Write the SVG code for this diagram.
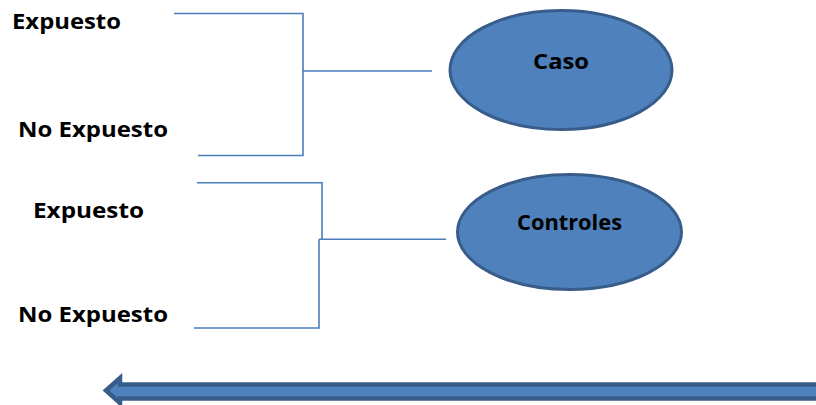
<svg xmlns="http://www.w3.org/2000/svg" width="816" height="405" viewBox="0 0 816 405">
<style>
  .lbl { font-family: "Open Sans", "Liberation Sans", Arial, sans-serif; font-weight: bold; font-size: 22px; fill: #000; }
  .node-text { font-family: "Open Sans", "Liberation Sans", Arial, sans-serif; font-weight: bold; font-size: 22px; fill: #000; text-anchor: middle; }
  .ell { fill: #4f81bd; stroke: #385d8a; stroke-width: 3; }
  .conn { fill: none; stroke: #4a7ebb; stroke-width: 1.6; }
</style>
<rect width="816" height="405" fill="#ffffff"/>
<g id="connectors">
  <path class="conn" d="M174,13.5 H303 V155.5 H198"/>
  <path class="conn" d="M303,71 H432"/>
  <path class="conn" d="M197,182.7 H322 V239.3"/>
  <path class="conn" d="M319,239.3 V328 H194"/>
  <path class="conn" d="M319,239.3 H446"/>
</g>
<g id="label-expuesto-1"><text class="lbl" x="12" y="28.5" textLength="109" lengthAdjust="spacingAndGlyphs">Expuesto</text></g>
<g id="label-noexpuesto-1"><text class="lbl" x="18" y="136.7" textLength="150" lengthAdjust="spacingAndGlyphs">No Expuesto</text></g>
<g id="label-expuesto-2"><text class="lbl" x="33" y="218.3" textLength="111" lengthAdjust="spacingAndGlyphs">Expuesto</text></g>
<g id="label-noexpuesto-2"><text class="lbl" x="18" y="321.7" textLength="150" lengthAdjust="spacingAndGlyphs">No Expuesto</text></g>
<g id="node-caso">
  <ellipse class="ell" cx="561" cy="70" rx="111" ry="59.5"/>
  <text class="node-text" x="561" y="69" textLength="56" lengthAdjust="spacingAndGlyphs">Caso</text>
</g>
<g id="node-controles">
  <ellipse class="ell" cx="569.5" cy="232" rx="112" ry="57.5"/>
  <text class="node-text" x="569.5" y="230" textLength="105" lengthAdjust="spacingAndGlyphs">Controles</text>
</g>
<g id="arrow">
  <polygon points="106,390.5 120,378 120,384.5 820,384.5 820,398.5 120,398.5 120,403" fill="#4f81bd" stroke="#385d8a" stroke-width="4.5" stroke-linejoin="miter"/>
</g>
</svg>
